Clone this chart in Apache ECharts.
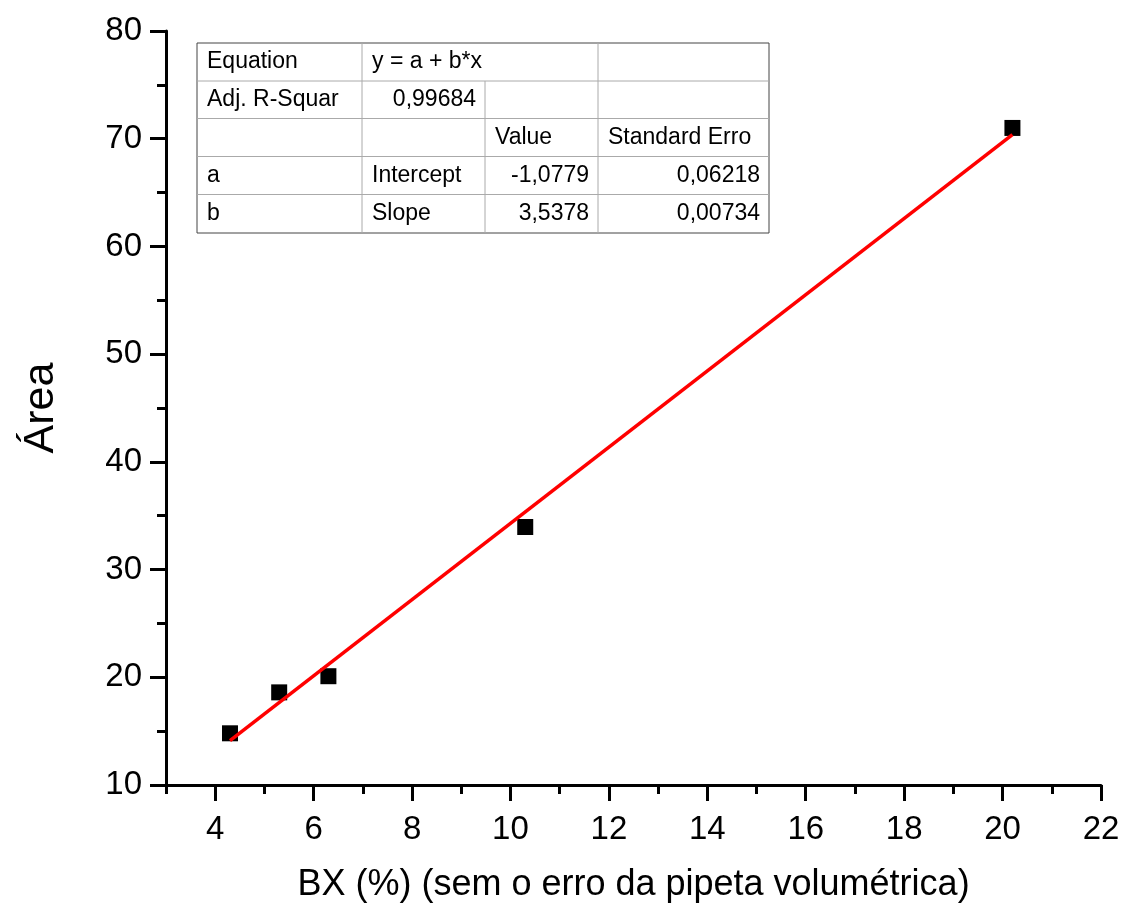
<!DOCTYPE html>
<html>
<head>
<meta charset="utf-8">
<script src="https://cdn.jsdelivr.net/npm/echarts@6/dist/echarts.min.js"></script>
<style>html,body{margin:0;padding:0;background:#fff}#c{width:1126px;height:905px}</style>
</head>
<body>
<div id="c"></div>
<script>
// Data
var pointX = [4.3, 5.3, 6.3, 10.3, 20.2];
var pointY = [14.8, 18.6, 20.1, 33.95, 71.0];
// Linear fit endpoints (y = a + b*x drawn from first to last x)
var fitX = [4.3, 20.2];
var fitY = [14.13, 70.39];
var xMajorTicks = [4, 6, 8, 10, 12, 14, 16, 18, 20, 22];
var xMinorTicks = [3, 5, 7, 9, 11, 13, 15, 17, 19, 21];
var xAxisTitle = 'BX (%) (sem o erro da pipeta volumétrica)';
var yAxisTitle = 'Área';
// Fit result table
var tableRows = [
  ['Equation', 'y = a + b*x', '', ''],
  ['Adj. R-Squar', '0,99684', '', ''],
  ['', '', 'Value', 'Standard Erro'],
  ['a', 'Intercept', '-1,0779', '0,06218'],
  ['b', 'Slope', '3,5378', '0,00734']
];

var FONT = "'Liberation Sans', Arial, Helvetica, sans-serif";
var chart = echarts.init(document.getElementById('c'), null, {renderer: 'canvas'});

var scatterData = pointX.map(function (x, i) { return [x, pointY[i]]; });
var fitData = fitX.map(function (x, i) { return [x, fitY[i]]; });

// Table graphic
var colX = [197, 362, 485, 598, 769];
var rowY = [43, 81, 118.5, 156.5, 194.5, 233];
var align = [
  ['l', 'l', 'l', 'l'],
  ['l', 'r', 'l', 'l'],
  ['l', 'l', 'l', 'l'],
  ['l', 'l', 'r', 'r'],
  ['l', 'l', 'r', 'r']
];
var g = [];
g.push({type: 'rect', shape: {x: colX[0], y: rowY[0], width: colX[4] - colX[0], height: rowY[5] - rowY[0]},
  style: {fill: '#fff', stroke: '#444', lineWidth: 1}, z: 100});
for (var r = 1; r < 5; r++) {
  g.push({type: 'line', shape: {x1: colX[0], y1: rowY[r], x2: colX[4], y2: rowY[r]},
    style: {stroke: '#aaa', lineWidth: 1}, z: 101});
}
for (var ci = 1; ci < 4; ci++) {
  var y1 = rowY[0];
  if (ci === 2) y1 = rowY[1];
  g.push({type: 'line', shape: {x1: colX[ci], y1: y1, x2: colX[ci], y2: rowY[5]},
    style: {stroke: '#aaa', lineWidth: 1}, z: 101});
}
tableRows.forEach(function (row, ri) {
  row.forEach(function (txt, ci) {
    if (!txt) return;
    var a = align[ri][ci];
    var xx = a === 'l' ? colX[ci] + 10 : colX[ci + 1] - 9;
    g.push({type: 'text', z: 102, style: {
      text: txt, x: xx, y: (rowY[ri] + rowY[ri + 1]) / 2,
      textAlign: a === 'l' ? 'left' : 'right', textVerticalAlign: 'middle',
      font: '23px ' + FONT, fill: '#000'
    }});
  });
});

var option = {
  backgroundColor: '#fff',
  animation: false,
  textStyle: {fontFamily: FONT},
  grid: {left: 166, right: 25, top: 31, bottom: 120, containLabel: false, outerBoundsMode: 'none'},
  xAxis: [{
    type: 'value', min: 3, max: 22, interval: 1, position: 'bottom',
    name: xAxisTitle, nameLocation: 'middle', nameGap: 82,
    nameTextStyle: {fontSize: 36, color: '#000', fontFamily: FONT},
    axisLine: {show: true, lineStyle: {color: '#000', width: 3}},
    axisTick: {show: true, customValues: xMajorTicks, length: 16, lineStyle: {color: '#000', width: 3}},
    axisLabel: {show: true, customValues: xMajorTicks, margin: 28, fontSize: 33, color: '#000', fontFamily: FONT},
    splitLine: {show: false}
  }, {
    type: 'value', min: 3, max: 22, interval: 1, position: 'bottom', offset: 0,
    axisLine: {show: false},
    axisTick: {show: true, customValues: xMinorTicks, length: 9, lineStyle: {color: '#000', width: 3}},
    axisLabel: {show: false},
    splitLine: {show: false}
  }],
  yAxis: {
    type: 'value', min: 10, max: 80, interval: 10,
    name: yAxisTitle, nameLocation: 'middle', nameGap: 103, nameRotate: 90,
    nameTextStyle: {fontSize: 43, color: '#000', fontFamily: FONT},
    axisLine: {show: true, lineStyle: {color: '#000', width: 3}},
    axisTick: {show: true, length: 16, lineStyle: {color: '#000', width: 3}},
    minorTick: {show: true, splitNumber: 2, length: 9, lineStyle: {color: '#000', width: 3}},
    axisLabel: {margin: 24, fontSize: 33, color: '#000', fontFamily: FONT},
    splitLine: {show: false}
  },
  series: [{
    type: 'scatter', xAxisIndex: 0, data: scatterData, symbol: 'rect', symbolSize: 16,
    itemStyle: {color: '#000', opacity: 1}, z: 3
  }, {
    type: 'line', xAxisIndex: 0, data: fitData, showSymbol: false, symbol: 'none',
    lineStyle: {color: '#ff0000', width: 3.5}, z: 4
  }],
  graphic: g
};
chart.setOption(option);
</script>
</body>
</html>
